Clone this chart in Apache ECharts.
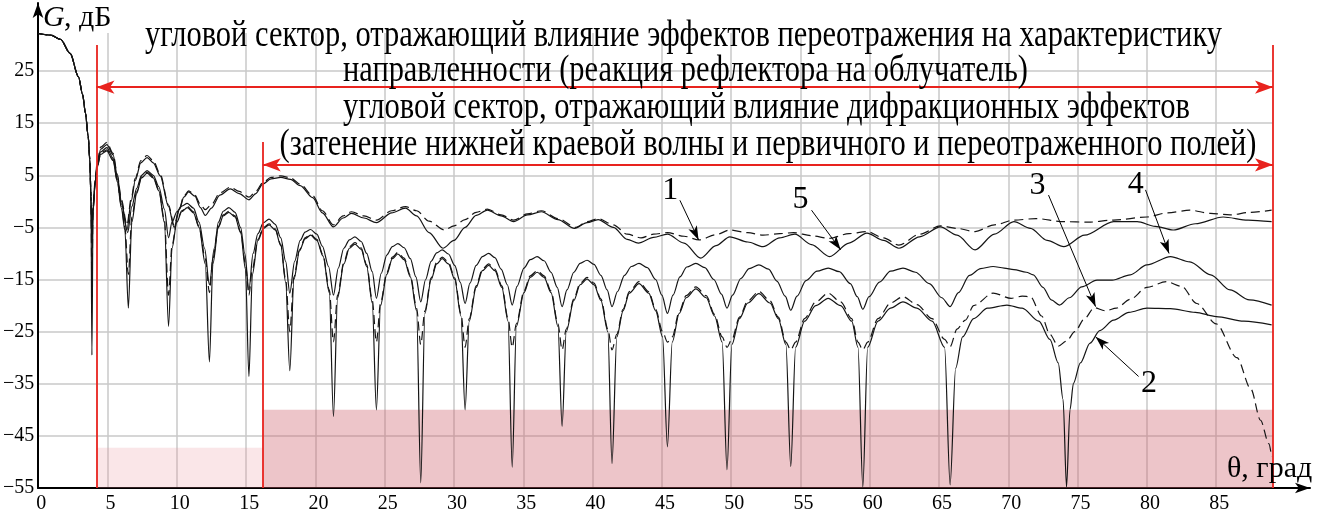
<!DOCTYPE html>
<html><head><meta charset="utf-8">
<script src="https://cdn.jsdelivr.net/npm/echarts@6/dist/echarts.min.js"></script>
<style>html,body{margin:0;padding:0;background:#fff}#c{width:1330px;height:525px}</style>
</head><body><div id="c"></div>
<script>
// ---------------- DATA ----------------
const mainLobe = [[0,32.2],[0.9,31.9],[1.6,31.1],[2.3,28.4],[2.9,23.9],[3.2,20.5],[3.4,17],[3.6,12.5],[3.72,8],[3.8,1]];

// curve 1 (dashed, upper)
const c1 = mainLobe.concat([[3.87,-6],[3.95,-1],[4.1,4],[4.25,7.5],[4.5,10.4],[4.95,11.3],[5.4,9.2],[5.7,5.2],[6.0,0.3],[6.4,-4.6],
[6.7,0.5],[7.0,4.4],[7.4,7.8],[7.85,8.8],[8.3,7.8],[8.8,5.2],[9.4,-0.7],[9.8,-4.6],
[10.2,-1.2],[10.5,1],[10.85,2],[11.3,1.2],[11.7,-0.6],[12.05,-1.6],[12.5,-0.6],[13.1,1.6],[13.85,2.7],[14.5,1.9],[15.2,0.8],[15.7,1.9],[16.2,3.6],[16.8,4.6],[17.5,4.9],[18.2,4.5],[18.9,3.3],[19.8,1.1],[20.5,-1.8],[21.3,-4.5],[22.0,-2.8],[22.6,-2.0],[23.5,-2.8],[24.4,-3.6],[25.5,-1.8],[26.5,-1.0],[27.3,-1.8],[28.2,-3.8],[29.3,-5.5],[30.0,-4.7],[30.8,-3.5],[31.6,-2.1],[32.4,-1.5],[33.4,-2.6],[34.3,-3.6],[35.3,-2.4],[36.3,-1.8],[37.5,-3.3],[38.8,-5.0],[39.6,-3.9],[40.4,-3.3],[41.5,-4.5],[42.5,-6.3],[43.5,-7.0],[44.4,-6.3],[45.4,-6.0],[46.6,-6.7],[47.7,-7.4],[48.9,-6.4],[49.9,-5.5],[51.2,-6.0],[52.3,-6.5],[53.5,-6.2],[54.5,-6.0],[55.8,-6.6],[57.1,-7.1],[58.5,-6.2],[59.8,-5.8],[61.0,-7.0],[62.1,-8.4],[63.6,-6.3],[65.1,-4.7],[66.3,-5.2],[67.6,-5.8],[69.0,-4.5],[70.4,-3.6],[72.0,-3.3],[74.0,-3.9],[75.8,-4.0],[77.6,-3.6],[80,-3],[81.5,-2.2],[83.1,-1.7],[84.6,-2.3],[86.0,-2.6],[87.5,-2.1],[89.0,-1.7]]);

// curve 5 (solid, upper)
const c5 = mainLobe.concat([[3.87,-8],[3.95,-2],[4.1,3.5],[4.25,7],[4.5,10],[4.95,10.9],[5.4,8.9],[5.7,4.9],[6.0,0],[6.4,-5.5],
[6.7,0],[7.0,4],[7.4,7.4],[7.85,8.4],[8.3,7.4],[8.8,4.9],[9.4,-1],[9.8,-5],
[10.2,-1.5],[10.5,0.8],[10.85,1.8],[11.3,1],[11.7,-1.2],[12.05,-2.7],[12.5,-1.3],[13.1,1.2],[13.85,2.4],[14.5,1.5],[15.2,0.3],[15.7,1.5],[16.2,3.3],[16.8,4.3],[17.5,4.6],[18.2,4.2],[18.9,3],[19.8,0.7],[20.5,-2.2],[21.3,-4.9],[22.0,-3.2],[22.6,-2.3],[23.5,-3.2],[24.4,-4.1],[25.5,-2.2],[26.5,-1.3],[27.3,-2.8],[28.2,-6],[29.2,-9.0],[30.0,-7.5],[30.8,-5],[31.6,-2.7],[32.4,-1.7],[33.4,-2.8],[34.3,-3.9],[35.3,-2.6],[36.3,-2.0],[37.5,-3.5],[38.7,-5.2],[39.6,-4.1],[40.4,-3.5],[41.5,-5],[42.5,-7.3],[43.3,-8.0],[44.4,-6.9],[45.4,-6.3],[46.6,-8],[47.8,-10.9],[48.9,-8.5],[49.9,-6.8],[51.2,-7.8],[52.3,-8.7],[53.5,-7],[54.6,-6.3],[55.8,-8.3],[57.1,-10.6],[58.5,-8],[59.8,-6.1],[61.0,-7.5],[62.1,-9.0],[63.6,-6.8],[65.1,-4.9],[66.3,-6.5],[67.6,-9.3],[69.0,-6.3],[70.4,-3.9],[71.6,-5.2],[72.8,-7.5],[74.0,-8.7],[75.5,-6.5],[77.6,-3.9],[79.3,-3.9],[80.6,-4.8],[81.9,-5.5],[83.5,-4.3],[85.5,-3.0],[87.3,-3.6],[89.0,-3.9]]);

// curve 4 (solid, middle)
const c4 = mainLobe.concat([[3.87,-8],[3.95,-1],[4.1,3.5],[4.25,6.8],[4.5,9.5],[4.95,10.3],[5.4,8.3],[5.7,4.3],[6.0,-0.5],[6.45,-6],
[6.75,-1],[7.1,2.5],[7.45,5],[7.85,5.9],[8.3,5],[8.7,2.8],[9.1,-1.5],[9.4,-7],
[9.65,-4],[10.0,-2],[10.35,-0.9],[10.75,-0.4],[11.2,-1.3],[11.6,-4],[12.0,-9],[12.35,-16],
[12.7,-9],[13.0,-4],[13.35,-1.9],[13.75,-1.2],[14.2,-2.1],[14.6,-5],[14.9,-10],[15.2,-17],
[15.5,-10],[15.85,-6.2],[16.25,-4.1],[16.65,-3.4],[17.1,-4.4],[17.5,-7],[17.85,-11.5],[18.15,-17.6],
[18.5,-11.5],[18.9,-7.5],[19.25,-5.9],[19.65,-5.4],[20.1,-6.3],[20.5,-8.6],[20.95,-12.5],[21.3,-18],
[21.65,-12.8],[22.05,-9],[22.45,-7.4],[22.85,-6.8],[23.3,-7.7],[23.7,-10],[24.1,-13.5],[24.4,-18.6],
[24.75,-13.8],[25.15,-10.3],[25.55,-8.7],[25.95,-8.1],[26.4,-8.9],[26.85,-11],[27.25,-14.5],[27.6,-19.3],
[27.95,-15],[28.35,-11.5],[28.75,-9.9],[29.15,-9.3],[29.6,-10.1],[30.05,-12.3],[30.45,-15.5],[30.8,-19.6],
[31.15,-15.7],[31.6,-12.3],[32.05,-10.6],[32.5,-10],[32.95,-10.8],[33.4,-13],[33.85,-16],[34.2,-19.9],
[34.55,-16.3],[35.05,-12.8],[35.5,-11.2],[36.0,-10.6],[36.5,-11.4],[37.0,-13.6],[37.45,-16.5],[37.8,-20.2],
[38.15,-17],[38.65,-13.6],[39.1,-11.9],[39.6,-11.3],[40.1,-12.1],[40.6,-14.2],[41.05,-17],[41.4,-20.2],
[41.8,-17.3],[42.3,-14.2],[42.8,-12.5],[43.35,-11.9],[43.95,-12.7],[44.55,-15],[45.0,-18],[45.4,-21.5],
[45.8,-18],[46.3,-14.5],[46.8,-12.6],[47.45,-11.9],[48.1,-12.7],[48.75,-15],[49.3,-17.8],[49.7,-20.5],
[50.1,-18],[50.7,-14.8],[51.3,-12.9],[52.0,-12.2],[52.7,-13],[53.3,-15.3],[53.9,-18.2],[54.3,-20.9],
[54.75,-18.2],[55.4,-15.2],[56.2,-13.4],[57.0,-12.8],[57.8,-13.5],[58.6,-15.8],[59.1,-18.3],[59.5,-20.7],
[59.95,-18.3],[60.7,-15.5],[61.5,-13.4],[62.4,-12.8],[63.3,-13.6],[64.3,-15.8],[65.2,-18.5],[65.8,-20.2],
[66.4,-17.5],[67.2,-14.2],[68.0,-12.9],[68.9,-12.5],[69.7,-12.8],[70.4,-13.1],[71.3,-13.6],[71.8,-14.1],[72.5,-16.5],[73.1,-18.9],[73.7,-19.9],[74.4,-18.5],[75.3,-16.4],[76.4,-15.1],[77.5,-15.1],[78.8,-14.1],[80.0,-12.2],[81.7,-10.6],[83.1,-11.6],[84.6,-14.1],[86.0,-17],[87.4,-18.9],[89,-19.9]]);

// curve 3 (dashed, lower)
const c3 = mainLobe.concat([[3.87,-17],[3.95,-1.5],[4.1,3.3],[4.25,6.6],[4.5,9.2],[4.95,9.9],[5.4,8],[5.7,4],[6.0,-1],[6.25,-5],[6.5,-14],
[6.75,-3],[7.1,1.8],[7.45,4.7],[7.85,5.6],[8.3,4.7],[8.7,2.2],[9.1,-3.5],[9.4,-18],
[9.65,-8.5],[10.0,-3.8],[10.35,-1.8],[10.75,-1.0],[11.2,-2.0],[11.6,-4.8],[12.05,-11],[12.35,-17.5],
[12.6,-11],[13.0,-4.8],[13.35,-2.6],[13.75,-1.9],[14.2,-2.8],[14.6,-5.8],[14.95,-12],[15.2,-18],
[15.45,-13],[15.85,-7.3],[16.25,-5.0],[16.65,-4.3],[17.1,-5.3],[17.5,-8.3],[17.85,-15],[18.15,-25],
[18.45,-14.5],[18.85,-9.3],[19.25,-7.0],[19.65,-6.3],[20.1,-7.3],[20.55,-10.3],[21.0,-17],[21.3,-27],
[21.6,-18],[22.05,-11.7],[22.45,-8.7],[22.85,-7.9],[23.3,-8.9],[23.7,-12.2],[24.1,-19],[24.4,-27],
[24.7,-19.5],[25.15,-13.7],[25.55,-10.7],[25.95,-9.8],[26.4,-10.9],[26.85,-14.2],[27.3,-20.5],[27.6,-27.5],
[27.9,-21],[28.35,-14.7],[28.75,-11.7],[29.15,-10.7],[29.6,-11.7],[30.05,-14.7],[30.5,-21.5],[30.8,-28],
[31.1,-22.5],[31.6,-16.2],[32.05,-13],[32.5,-12],[32.95,-13],[33.45,-16.2],[33.9,-22.5],[34.2,-28],
[34.5,-23.5],[35.05,-17.2],[35.5,-14.3],[36.0,-13.3],[36.5,-14.3],[37.0,-17.2],[37.5,-23.5],[37.8,-28.5],
[38.1,-24.5],[38.65,-18.7],[39.1,-15.7],[39.6,-14.6],[40.1,-15.7],[40.6,-18.7],[41.1,-24.5],[41.4,-28.5],
[41.75,-25.5],[42.2,-20.7],[42.65,-17.3],[43.35,-15.4],[44.05,-17.3],[44.55,-20.7],[45.05,-25],[45.4,-27],
[45.75,-26],[46.25,-21.2],[46.75,-18.1],[47.45,-16.4],[48.2,-18.1],[48.8,-21.7],[49.35,-26],[49.7,-28],
[50.05,-26.5],[50.6,-22.2],[51.2,-19.1],[52.0,-17.3],[52.8,-19.1],[53.4,-22.2],[53.95,-27],[54.3,-28.5],
[54.65,-27],[55.3,-22.5],[56.1,-19.3],[57.0,-17.6],[57.9,-19.3],[58.7,-22.5],[59.15,-27],[59.5,-28.5],
[59.85,-27],[60.6,-22.5],[61.5,-19.5],[62.4,-18.3],[63.4,-19.8],[64.5,-22.5],[65.4,-26.5],[65.8,-27.9],
[66.3,-24.5],[66.9,-22.8],[67.5,-20],[68.9,-17.6],[70.2,-18.6],[71.0,-18.2],[71.6,-18.3],[72.4,-22],[73.0,-25.5],[73.6,-27.8],[74.2,-26.8],[74.8,-25],[75.5,-22.5],[76.2,-20.4],[77.0,-21],[77.8,-20.5],[78.8,-18.8],[80.0,-16.5],[81.4,-15.4],[82.5,-16.3],[83.6,-19.6],[85.0,-23.5],[86.5,-30],[87.5,-36],[88.2,-42],[88.8,-46.5],[89.0,-49]]);

// curve 2 (solid, deep nulls)
const c2 = mainLobe.concat([[3.87,-29.5],[3.95,-2],[4.1,3.2],[4.25,6.5],[4.5,9],[4.95,9.7],[5.4,7.8],[5.7,3.8],[6.0,-1.3],[6.25,-5.5],[6.5,-20.5],
[6.75,-4],[7.1,1.5],[7.45,4.5],[7.85,5.4],[8.3,4.5],[8.7,2],[9.1,-4],[9.4,-24],
[9.65,-9],[10.0,-4],[10.35,-2],[10.75,-1.2],[11.2,-2.2],[11.6,-5],[12.05,-12],[12.35,-30.8],
[12.6,-12],[13.0,-5],[13.35,-2.8],[13.75,-2.1],[14.2,-3],[14.6,-6],[14.95,-13],[15.2,-33.6],
[15.45,-14],[15.85,-7.5],[16.25,-5.2],[16.65,-4.5],[17.1,-5.5],[17.5,-8.5],[17.85,-15.5],[18.15,-32.5],
[18.45,-15],[18.85,-9.5],[19.25,-7.2],[19.65,-6.5],[20.1,-7.5],[20.55,-10.5],[21.0,-17.5],[21.3,-41.3],
[21.6,-18.5],[22.05,-12],[22.45,-9],[22.85,-8.2],[23.3,-9.2],[23.7,-12.5],[24.1,-19.5],[24.4,-40],
[24.7,-20],[25.15,-14],[25.55,-11],[25.95,-10.1],[26.4,-11.2],[26.85,-14.5],[27.3,-21],[27.6,-54],
[27.9,-21.5],[28.35,-15],[28.75,-12],[29.15,-11],[29.6,-12],[30.05,-15],[30.5,-22],[30.8,-40],
[31.1,-23],[31.6,-16.5],[32.05,-13.3],[32.5,-12.3],[32.95,-13.3],[33.45,-16.5],[33.9,-23],[34.2,-51],
[34.5,-24],[35.05,-17.5],[35.5,-14.6],[36.0,-13.6],[36.5,-14.6],[37.0,-17.5],[37.5,-24],[37.8,-43.2],
[38.1,-25],[38.65,-19],[39.1,-16],[39.6,-14.9],[40.1,-16],[40.6,-19],[41.1,-25],[41.4,-50.3],
[41.75,-26],[42.2,-21],[42.65,-17.6],[43.35,-15.8],[44.05,-17.6],[44.55,-21],[45.05,-26],[45.4,-47.1],
[45.75,-27],[46.25,-21.5],[46.75,-18.5],[47.45,-16.8],[48.2,-18.5],[48.8,-22],[49.35,-27],[49.7,-51.5],
[50.05,-27.5],[50.6,-22.5],[51.2,-19.5],[52.0,-17.7],[52.8,-19.5],[53.4,-22.5],[53.95,-27.5],[54.3,-50.9],
[54.65,-28],[55.3,-23],[56.1,-20],[57.0,-18.6],[57.9,-20],[58.7,-23],[59.15,-28],[59.5,-54.8],
[59.85,-28],[60.6,-23],[61.5,-20.5],[62.4,-19.3],[63.4,-20.5],[64.5,-23],[65.4,-28],[65.8,-54.4],
[66.2,-32],[66.7,-26],[67.5,-22.5],[68.5,-20.5],[69.9,-19.9],[71.0,-20.5],[72.2,-23],[73.0,-26.5],[73.6,-31],[73.95,-38],[74.2,-54.8],
[74.45,-40],[74.7,-34.9],[75.2,-31],[75.9,-27.2],[76.6,-24.8],[77.6,-22.8],[78.7,-21.3],[80,-20.5],[81.7,-20.6],[83.5,-21.3],[85,-22.1],[87,-23],[89,-23.7]]);

// sector boundaries (deg) and shaded levels (dB)
const sectorLines = [4.2, 16.2, 89.1];
const sectorTops = [30, 11.4, 30];
const arrowLevels = [21.9, 7.0];
const shadeTops = [-47.3, -40];

// curve number labels [text, deg, dB] and their pointer lines [from, to]
const curveLabels = [['1',45.6,2.0],['5',55.0,0.4],['3',72.1,3.1],['4',79.2,3.3],['2',80.15,-35]];
const pointers = [[[46.3,0.2],[47.65,-7.4]],[[55.8,-1.7],[57.9,-9.3]],[[72.9,1.2],[76.3,-20.2]],[[79.9,2.2],[81.6,-10]],[[79.4,-33.6],[76.3,-26]]];

const textLines = [
 'угловой сектор, отражающий влияние эффектов переотражения на характеристику',
 'направленности (реакция рефлектора на облучатель)',
 'угловой сектор, отражающий влияние дифракционных эффектов',
 '(затенение нижней краевой волны и первичного и переотраженного полей)'
];
// ---------------- LAYOUT ----------------
const textBoxes = [{cx:683.5,y:36,w:1077},{cx:685.5,y:71,w:685},{cx:766.5,y:108,w:847},{cx:768,y:145,w:977}];
const FONT = '"Liberation Serif", "Times New Roman", serif';
const ctx = document.createElement('canvas').getContext('2d');
ctx.font = '38px ' + FONT;
const texts = textLines.map((t,i)=>{
  const b = textBoxes[i];
  const s = b.w / ctx.measureText(t).width;
  return {type:'text', x:b.cx, y:b.y, scaleX:s, z:10,
    style:{text:t, font:'38px '+FONT, fill:'#000', textAlign:'center', textVerticalAlign:'middle'}};
});
texts.push({type:'text', x:43, y:18, z:10, style:{text:'G', font:'italic 30px '+FONT, fill:'#000', textAlign:'left', textVerticalAlign:'middle'}});
texts.push({type:'text', x:64, y:18, z:10, style:{text:', дБ', font:'30px '+FONT, fill:'#000', textAlign:'left', textVerticalAlign:'middle'}});
texts.push({type:'text', x:1227, y:469, z:10, style:{text:'θ, град', font:'30px '+FONT, fill:'#000', textAlign:'left', textVerticalAlign:'middle'}});

const RED = '#e8231e';
const curveStyle = (dashed)=>({color:'#151515', width:1.2, type: dashed ? [9,5] : 'solid'});
const mkCurve = (name, data, dashed)=>({name, type:'line', data, showSymbol:false, smooth:0.3, smoothMonotone:'x',
  lineStyle:curveStyle(dashed), z:3, silent:true});

const option = {
  animation:false,
  backgroundColor:'#fff',
  grid:[{left:38,right:57,top:33,bottom:37},{left:38,right:20,top:3,bottom:37}],
  xAxis:[{type:'value', min:0, max:89.1, interval:5, gridIndex:0,
      axisLine:{show:false}, axisTick:{show:false},
      axisLabel:{fontFamily:FONT, fontSize:20, color:'#000', margin:6, padding:[0,0,0,6], showMaxLabel:false},
      splitLine:{show:true, showMaxLine:false, showMinLine:false, lineStyle:{color:'#c8c8c8', width:1.5}}},
    {type:'value', min:0, max:1, gridIndex:1, axisLine:{show:true, onZero:false, symbol:['none','arrow'], symbolSize:[8,15], lineStyle:{color:'#000', width:2}},
      axisTick:{show:false}, axisLabel:{show:false}, splitLine:{show:false}}],
  yAxis:[{type:'value', min:-55, max:32.3, interval:10, gridIndex:0,
      axisLine:{show:false}, axisTick:{show:false},
      axisLabel:{fontFamily:FONT, fontSize:20, color:'#000', margin:4, showMaxLabel:false,
        formatter:v=> v<0 ? '\u2212'+Math.abs(v) : String(v)},
      splitLine:{show:true, showMaxLine:false, showMinLine:false, lineStyle:{color:'#c8c8c8', width:1.5}}},
    {type:'value', min:0, max:1, gridIndex:1, axisLine:{show:true, onZero:false, symbol:['none','arrow'], symbolSize:[8,15], lineStyle:{color:'#000', width:2}},
      axisTick:{show:false}, axisLabel:{show:false}, splitLine:{show:false}}],
  graphic: texts,
  series:[
    {type:'line', data:[], silent:true, z:1,
      markArea:{silent:true, data:[
        [{coord:[sectorLines[0],-55], itemStyle:{color:'rgba(232,140,150,0.22)'}},{coord:[sectorLines[1],shadeTops[0]]}],
        [{coord:[sectorLines[1],-55], itemStyle:{color:'rgba(205,95,105,0.36)'}},{coord:[sectorLines[2],shadeTops[1]]}]
      ]}},
    mkCurve('1', c1, true),
    mkCurve('5', c5, false),
    mkCurve('4', c4, false),
    mkCurve('3', c3, true),
    mkCurve('2', c2, false),
    {type:'line', data:[], silent:true, z:5,
      markLine:{silent:true, animation:false, label:{show:false}, emphasis:{disabled:true},
        data: sectorLines.map((x,i)=>[{coord:[x,-55], symbol:'none', lineStyle:{color:RED,width:1.8,type:'solid'}},{coord:[x,sectorTops[i]], symbol:'none'}])
          .concat(arrowLevels.map((y,i)=>[{coord:[sectorLines[i],y], symbol:'arrow', symbolSize:[10,18], lineStyle:{color:RED,width:1.8,type:'solid'}},{coord:[sectorLines[2],y], symbol:'arrow', symbolSize:[10,18]}]))
          .concat(pointers.map(p=>[{coord:p[0], symbol:'none', lineStyle:{color:'#000',width:1,type:'solid'}},{coord:p[1], symbol:'arrow', symbolSize:[7,14]}]))
      }},
    {type:'scatter', data:curveLabels.map(l=>[l[1],l[2],l[0]]), symbolSize:1, itemStyle:{color:'transparent', opacity:1}, silent:true, z:6,
      label:{show:true, position:'inside', formatter:p=>p.data[2], fontFamily:FONT, fontSize:32, color:'#000', opacity:1, textBorderWidth:0}}
  ]
};
const chart = echarts.init(document.getElementById('c'), null, {renderer:'canvas'});
chart.setOption(option);
</script></body></html>
